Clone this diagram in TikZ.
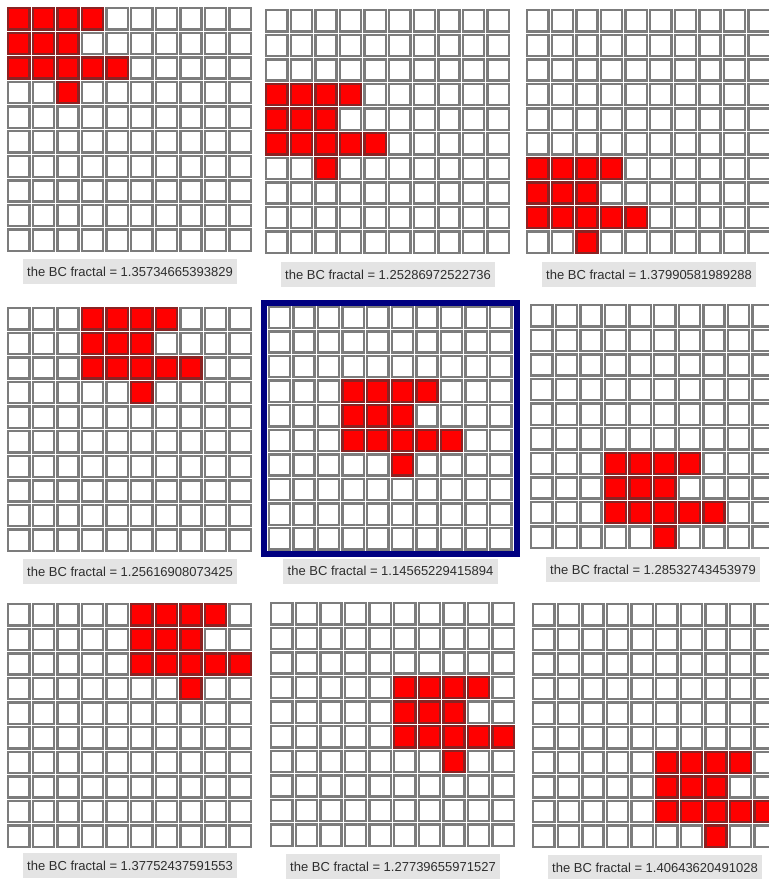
\documentclass[tikz,border=0pt]{standalone}
\usepackage{fontspec}
\setmainfont{Liberation Sans}
\usetikzlibrary{positioning, calc}
\definecolor{cellgray}{HTML}{7C7C7C}
\definecolor{cellred}{HTML}{FF0000}
\definecolor{rededge}{HTML}{8A2323}
\definecolor{framenavy}{HTML}{000080}
\definecolor{labelbg}{HTML}{E4E4E4}
\definecolor{labeltext}{HTML}{2E2E2E}

\begin{document}
\begin{tikzpicture}[
  x=1pt, y=-1pt,
  cell/.style={draw=cellgray, fill=white, line width=2.4pt},
  redcell/.style={draw=rededge, fill=cellred, line width=2.4pt},
  bclabel/.style={fill=labelbg, text=labeltext, font=\fontsize{13}{15}\selectfont,
                  minimum height=25pt, inner xsep=4.5pt, inner ysep=0pt},
  selframe/.style={draw=framenavy, line width=6pt},
]
\useasboundingbox (0,0) rectangle (769,879);
\clip (0,0) rectangle (769,879);

% nine 10x10 grids, the same red blob shifted by (row, col)
\foreach \px/\py/\ro/\co/\n in {7/7/0/0/1, 265/9/3/0/2, 526/9/6/0/3,
    7/307/0/3/4, 267.5/305.5/3/3/5, 530/304/6/3/6,
    7/603/0/5/7, 270/602/3/5/8, 532/603/6/5/9}{
  \begin{scope}[shift={(\px,\py)}]
    \foreach \i in {0,...,9}
      \foreach \j in {0,...,9}
        \draw[cell] ({\j*24.6+1.2},{\i*24.6+1.2}) rectangle ++(21.2,21.2);
    \foreach \i/\j in {0/0,0/1,0/2,0/3,1/0,1/1,1/2,2/0,2/1,2/2,2/3,2/4,3/2}
      \draw[redcell] ({(\j+\co)*24.6+1.2},{(\i+\ro)*24.6+1.2}) rectangle ++(21.2,21.2);
    \coordinate (g\n) at (123,246);
  \end{scope}
}

% selected grid
\draw[selframe] ($(g5)+(-126.5,-248.5)$) rectangle ($(g5)+(126.5,2.5)$);

% values
\node[bclabel, below=6pt of g1] (l1) {the BC fractal = 1.35734665393829};
\node[bclabel, below=7pt of g2] (l2) {the BC fractal = 1.25286972522736};
\node[bclabel, below=7pt of g3] (l3) {the BC fractal = 1.37990581989288};
\node[bclabel, below=6pt of g4] (l4) {the BC fractal = 1.25616908073425};
\node[bclabel, below=7pt of g5] (l5) {the BC fractal = 1.14565229415894};
\node[bclabel, below=7pt of g6] (l6) {the BC fractal = 1.28532743453979};
\node[bclabel, below=4pt of g7] (l7) {the BC fractal = 1.37752437591553};
\node[bclabel, below=6pt of g8] (l8) {the BC fractal = 1.27739655971527};
\node[bclabel, below=6pt of g9] (l9) {the BC fractal = 1.40643620491028};

\end{tikzpicture}
\end{document}
